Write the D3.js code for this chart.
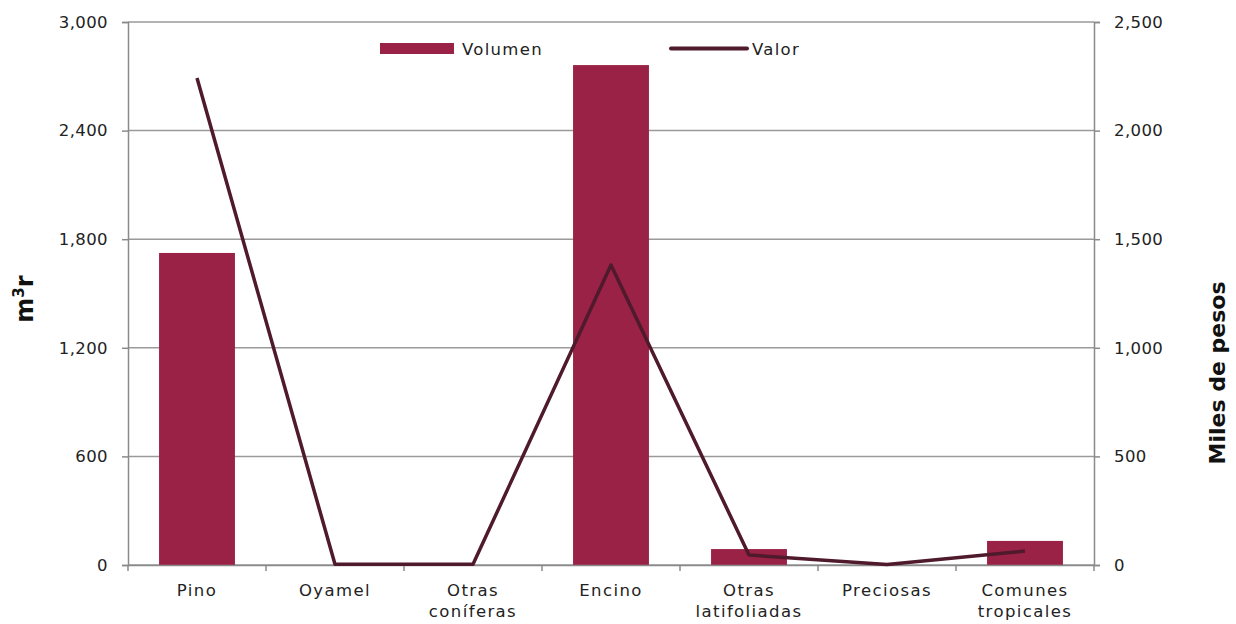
<!DOCTYPE html>
<html><head><meta charset="utf-8">
<script src="https://cdn.jsdelivr.net/npm/d3@7/dist/d3.min.js"></script>
<style>body{margin:0;background:#fff;} svg{display:block;font-family:"DejaVu Sans",sans-serif;}</style>
</head><body><svg id="c" width="1236" height="624"></svg>
<script>
const categories = [["Pino"],["Oyamel"],["Otras","coníferas"],["Encino"],["Otras","latifoliadas"],["Preciosas"],["Comunes","tropicales"]];
const volumen = [1724, 0, 0, 2762, 88, 0, 133];
const valor = [2242, 3, 3, 1381, 46, 2, 64];
const leftTicks = [0, 600, 1200, 1800, 2400, 3000];
const rightTicks = [0, 500, 1000, 1500, 2000, 2500];

const svg = d3.select("#c");
const L = 128, R = 1094, T = 22, B = 565;
const FONT = "\"DejaVu Sans\",sans-serif";
const keys = categories.map((d,i)=>i);
const x = d3.scaleBand().domain(keys).range([L, R]).paddingInner(0.45).paddingOuter(0.225);
const xb = d3.scaleBand().domain(keys).range([L, R]);
const yL = d3.scaleLinear().domain([0, 3000]).range([B, T]);
const yR = d3.scaleLinear().domain([0, 2500]).range([B, T]);
const fmt = d3.format(",");

// grid
svg.append("g").selectAll("line").data(leftTicks).join("line")
  .attr("x1", L).attr("x2", R).attr("y1", d=>yL(d)).attr("y2", d=>yL(d))
  .attr("stroke", "#9a9a9a").attr("stroke-width", 1.5);

// bars
svg.append("g").selectAll("rect").data(volumen).join("rect")
  .attr("x", (d,i)=>x(i)).attr("width", x.bandwidth())
  .attr("y", d=>yL(d)).attr("height", d=>B - yL(d))
  .attr("fill", "#9B2247");

// axes
const gl = svg.append("g").attr("transform", `translate(${L},0)`)
  .call(d3.axisLeft(yL).tickValues(leftTicks).tickFormat(fmt).tickSize(6).tickPadding(14));
const gr = svg.append("g").attr("transform", `translate(${R},0)`)
  .call(d3.axisRight(yR).tickValues(rightTicks).tickFormat(fmt).tickSize(6).tickPadding(14));
[gl, gr].forEach(g=>{
  g.select(".domain").attr("stroke", "#8a8a8a").attr("stroke-width", 1.5);
  g.selectAll(".tick line").attr("stroke", "#8a8a8a").attr("stroke-width", 1.5);
  g.selectAll("text").attr("font-size", 16.5).attr("fill", "#222").attr("font-family", FONT)
    .attr("letter-spacing", 0.4);
});

// bottom axis
const gb = svg.append("g").attr("transform", `translate(0,${B})`)
  .call(d3.axisBottom(xb).tickSize(0).tickFormat(""));
gb.select(".domain").attr("stroke", "#8a8a8a").attr("stroke-width", 1.5);
const bounds = keys.map(k=>xb(k)).concat([R]);
svg.append("g").selectAll("line").data(bounds).join("line")
  .attr("x1", d=>d).attr("x2", d=>d).attr("y1", B).attr("y2", B+6)
  .attr("stroke", "#8a8a8a").attr("stroke-width", 1.5);
const cl = svg.append("g").selectAll("text").data(categories).join("text")
  .attr("text-anchor", "middle").attr("font-size", 16.5).attr("fill", "#222")
  .attr("letter-spacing", 1.4)
  .attr("x", (d,i)=>xb(i) + xb.bandwidth()/2).attr("y", 596);
cl.selectAll("tspan").data(d=>d).join("tspan")
  .attr("x", function(){ return d3.select(this.parentNode).attr("x"); })
  .attr("dy", (d,i)=> i===0 ? 0 : 21).text(d=>d);

// line
const line = d3.line().x((d,i)=>xb(i) + xb.bandwidth()/2).y(d=>yR(d));
svg.append("path").datum(valor).attr("d", line).attr("fill", "none")
  .attr("stroke", "#4E1A2C").attr("stroke-width", 3.5).attr("stroke-linejoin", "round");

// axis titles
svg.append("text").attr("transform", "translate(33,299) rotate(-90)")
  .attr("text-anchor", "middle").attr("font-size", 24).attr("font-weight", "bold").attr("fill", "#111")
  .html('m<tspan baseline-shift="super" font-size="15">3</tspan>r');
svg.append("text").attr("transform", "translate(1225,373) rotate(-90)")
  .attr("text-anchor", "middle").attr("font-size", 22).attr("font-weight", "bold").attr("fill", "#111")
  .text("Miles de pesos");

// legend
svg.append("rect").attr("x", 380).attr("y", 43).attr("width", 74).attr("height", 11).attr("fill", "#9B2247");
svg.append("text").attr("x", 462).attr("y", 55).attr("font-size", 16.5).attr("letter-spacing", 1.3).attr("fill", "#222").text("Volumen");
svg.append("line").attr("x1", 671).attr("x2", 747).attr("y1", 48.5).attr("y2", 48.5)
  .attr("stroke", "#4E1A2C").attr("stroke-width", 4).attr("stroke-linecap", "round");
svg.append("text").attr("x", 752).attr("y", 55).attr("font-size", 16.5).attr("letter-spacing", 1.3).attr("fill", "#222").text("Valor");
</script></body></html>
